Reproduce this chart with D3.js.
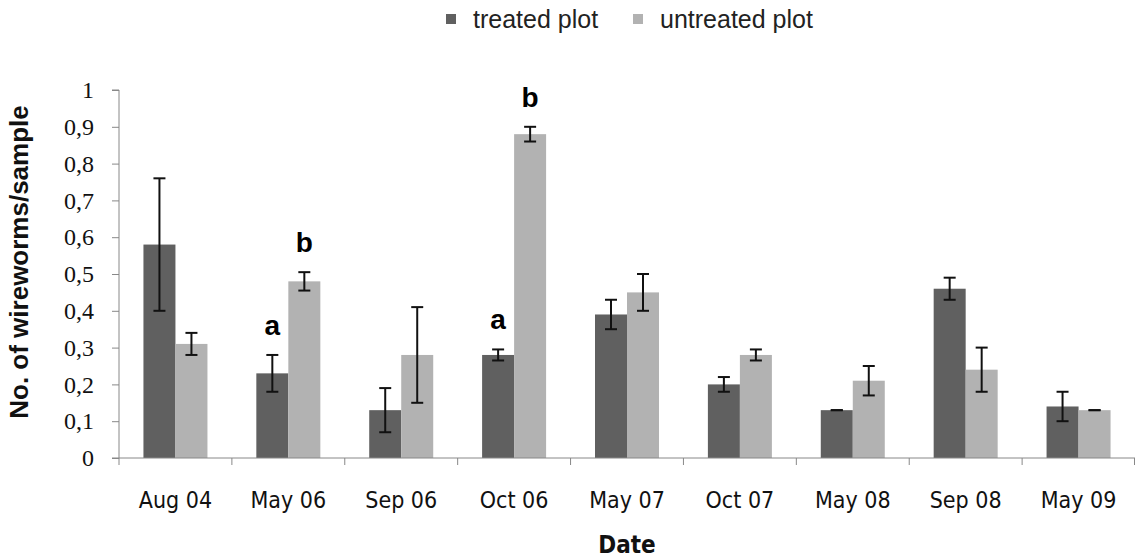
<!DOCTYPE html>
<html>
<head>
<meta charset="utf-8">
<script src="https://cdn.jsdelivr.net/npm/d3@7"></script>
<style>
  html, body { margin: 0; padding: 0; background: #fff; }
  svg { display: block; }
</style>
</head>
<body>
<svg id="chart" width="1137" height="558"></svg>
<script>
// Sampling dates
const dates = ["Aug 04", "May 06", "Sep 06", "Oct 06", "May 07", "Oct 07", "May 08", "Sep 08", "May 09"];
const seriesNames = ["treated plot", "untreated plot"];

// Mean wireworms per sample
const treated   = [0.58, 0.23, 0.13, 0.28, 0.39, 0.20, 0.13, 0.46, 0.14];
const untreated = [0.31, 0.48, 0.28, 0.88, 0.45, 0.28, 0.21, 0.24, 0.13];

// Standard errors
const treatedErr   = [0.18, 0.05, 0.06, 0.015, 0.04, 0.02, 0.0, 0.03, 0.04];
const untreatedErr = [0.03, 0.025, 0.13, 0.02, 0.05, 0.015, 0.04, 0.06, 0.0];

// Significance letters (date, series index, letter)
const sigDates   = ["May 06", "May 06", "Oct 06", "Oct 06"];
const sigSeries  = [0, 1, 0, 1];
const sigLetters = ["a", "b", "a", "b"];

const yTicks = [0, 0.1, 0.2, 0.3, 0.4, 0.5, 0.6, 0.7, 0.8, 0.9, 1];

const colors = ["#606060", "#b2b2b2"];

const svg = d3.select("#chart");
const W = 1137;
const x0 = 119, x1 = W - 2;
const yBottom = 458, yTop = 90;

const x = d3.scaleBand().domain(dates).range([x0, x1]).paddingInner(0).paddingOuter(0);
const xs = d3.scaleBand().domain([0, 1]).range([x.bandwidth() / 2 - 32, x.bandwidth() / 2 + 32]);
const y = d3.scaleLinear().domain([0, 1]).range([yBottom, yTop]);

const values = [treated, untreated];
const errs = [treatedErr, untreatedErr];

// Bars
const groups = svg.append("g").selectAll("g")
  .data(dates)
  .join("g")
  .attr("transform", d => `translate(${x(d)},0)`);

groups.selectAll("rect")
  .data((d, i) => [0, 1].map(s => ({ s, v: values[s][i], e: errs[s][i] })))
  .join("rect")
  .attr("x", d => xs(d.s))
  .attr("width", xs.bandwidth())
  .attr("y", d => y(d.v))
  .attr("height", d => y(0) - y(d.v))
  .attr("fill", d => colors[d.s]);

// Error bars
const eb = groups.selectAll("g.err")
  .data((d, i) => [0, 1].map(s => ({ s, v: values[s][i], e: errs[s][i] })))
  .join("g")
  .attr("class", "err")
  .attr("stroke", "#111")
  .attr("stroke-width", 2);
eb.append("line")
  .attr("x1", d => xs(d.s) + xs.bandwidth() / 2)
  .attr("x2", d => xs(d.s) + xs.bandwidth() / 2)
  .attr("y1", d => y(d.v + d.e))
  .attr("y2", d => y(d.v - d.e));
eb.selectAll("line.cap")
  .data(d => [d.v + d.e, d.v - d.e].map(v => ({ s: d.s, v })))
  .join("line")
  .attr("class", "cap")
  .attr("x1", d => xs(d.s) + xs.bandwidth() / 2 - 6)
  .attr("x2", d => xs(d.s) + xs.bandwidth() / 2 + 6)
  .attr("y1", d => y(d.v))
  .attr("y2", d => y(d.v));

// Axes
const axisColor = "#888";
const yAxis = svg.append("g")
  .attr("transform", `translate(${x0},0)`)
  .call(d3.axisLeft(y).tickValues(yTicks).tickSize(7).tickPadding(18)
    .tickFormat(d => d3.format(".1f")(d).replace(".", ",").replace(/^0,0$/, "0").replace(/^1,0$/, "1")));
yAxis.select(".domain").attr("stroke", axisColor).attr("d", `M-7,${yTop}H0V${yBottom}H-7`);
yAxis.selectAll(".tick line").attr("stroke", axisColor);
yAxis.selectAll("text")
  .attr("fill", "#111")
  .style("font-family", "'Liberation Serif', 'DejaVu Serif', serif")
  .style("font-size", "24px");

const xAxis = svg.append("g")
  .attr("transform", `translate(0,${yBottom})`);
xAxis.append("line")
  .attr("x1", x0).attr("x2", x1).attr("y1", 0).attr("y2", 0)
  .attr("stroke", axisColor);
xAxis.selectAll("line.tick")
  .data(dates.concat(["end"]))
  .join("line")
  .attr("class", "tick")
  .attr("x1", (d, i) => i < dates.length ? x(d) : x1 - 0.5)
  .attr("x2", (d, i) => i < dates.length ? x(d) : x1 - 0.5)
  .attr("y1", 0).attr("y2", 7)
  .attr("stroke", axisColor);
xAxis.selectAll("text")
  .data(dates)
  .join("text")
  .attr("x", d => x(d) + x.bandwidth() / 2)
  .attr("y", 50)
  .attr("text-anchor", "middle")
  .attr("fill", "#111")
  .style("font-family", "'DejaVu Sans Condensed', 'Liberation Sans Narrow', sans-serif")
  .style("font-size", "23px")
  .text(d => d);

// Axis titles
svg.append("text")
  .attr("x", (x0 + x1) / 2)
  .attr("y", 553)
  .attr("text-anchor", "middle")
  .attr("fill", "#111")
  .style("font-family", "'DejaVu Sans Condensed', 'Liberation Sans Narrow', sans-serif")
  .style("font-weight", "bold")
  .style("font-size", "24px")
  .text("Date");

svg.append("text")
  .attr("transform", `translate(28,262) rotate(-90)`)
  .attr("text-anchor", "middle")
  .attr("fill", "#111")
  .style("font-family", "'Liberation Sans', Arial, sans-serif")
  .style("font-weight", "bold")
  .style("font-size", "26px")
  .text("No. of wireworms/sample");

// Significance letters
svg.append("g").selectAll("text")
  .data(sigLetters.map((l, i) => ({ l, date: sigDates[i], s: sigSeries[i] })))
  .join("text")
  .attr("x", d => x(d.date) + xs(d.s) + xs.bandwidth() / 2)
  .attr("y", d => {
    const i = dates.indexOf(d.date);
    return y(values[d.s][i] + errs[d.s][i]) - 20;
  })
  .attr("text-anchor", "middle")
  .attr("fill", "#000")
  .style("font-family", "'Liberation Sans', Arial, sans-serif")
  .style("font-weight", "bold")
  .style("font-size", "28px")
  .text(d => d.l);

// Legend
const legendX = [446, 633];
const legend = svg.append("g").selectAll("g")
  .data(seriesNames)
  .join("g")
  .attr("transform", (d, i) => `translate(${legendX[i]},0)`);
legend.append("rect")
  .attr("x", 0).attr("y", 14).attr("width", 10).attr("height", 10)
  .attr("fill", (d, i) => colors[i]);
legend.append("text")
  .attr("x", 27).attr("y", 28)
  .attr("fill", "#222")
  .style("font-family", "'Liberation Sans', Arial, sans-serif")
  .style("font-size", "25px")
  .text(d => d);
</script>
</body>
</html>
